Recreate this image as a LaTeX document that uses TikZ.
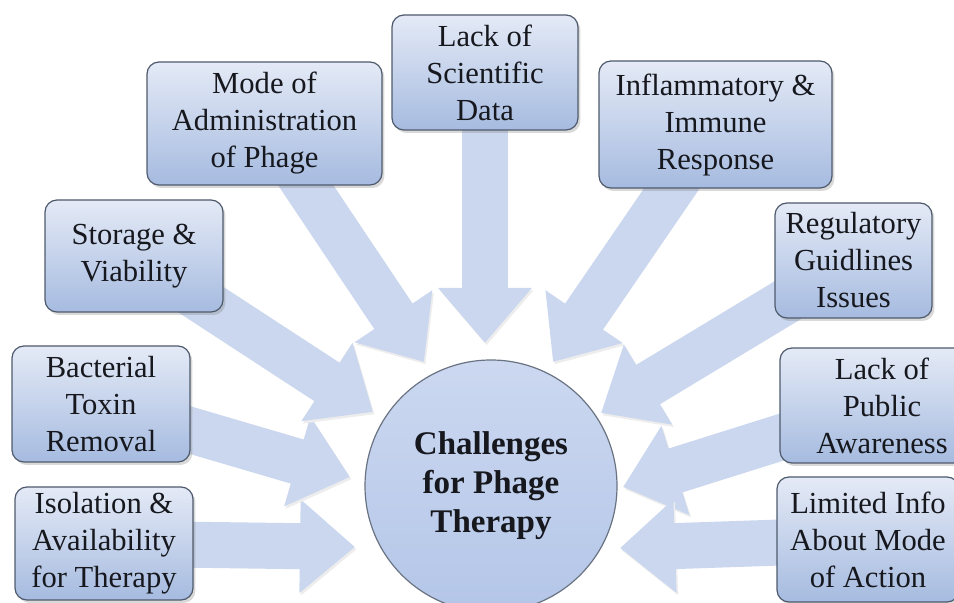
\documentclass[tikz,border=0pt]{standalone}
\usepackage{fontspec}
\setmainfont{Liberation Serif}
\usepackage{tikz}
\usetikzlibrary{arrows.meta,shadows,backgrounds}

\definecolor{boxtop}{RGB}{228,234,246}
\definecolor{boxbottom}{RGB}{166,187,224}
\definecolor{boxline}{RGB}{78,90,108}
\definecolor{hubtop}{RGB}{204,216,240}
\definecolor{hubbottom}{RGB}{180,198,232}
\definecolor{arrowfill}{RGB}{202,215,238}
\definecolor{inktext}{RGB}{22,24,30}

\tikzset{
    issue/.style={draw=boxline, line width=0.6pt, rounded corners=6pt,
        top color=boxtop, bottom color=boxbottom, text=inktext, align=center,
        inner sep=2pt, font=\fontsize{15.3}{18.5}\selectfont,
        drop shadow={shadow xshift=1.2pt, shadow yshift=-1.5pt, opacity=0.3}},
    hub/.style={circle, draw=boxline!85, line width=0.6pt, inner sep=0pt,
        top color=hubtop, bottom color=hubbottom, text=inktext, align=center,
        minimum size=126pt, font=\fontsize{16.5}{19.5}\selectfont\bfseries},
    push/.style={draw=arrowfill, line width=23pt, shorten <=-20pt,
        -{Triangle[length=27.5pt, width=45pt]},
        preaction={draw=black!7, transform canvas={shift={(0.8pt,-1.2pt)}}}}
}

\begin{document}
\begin{tikzpicture}[x=0.5pt, y=-0.5pt]
    \useasboundingbox (0,0) rectangle (954,603);

    % centre
    \node[hub] (hub) at (491,486) {Challenges\\for Phage\\Therapy};

    % the challenges, clockwise from the top left
    \node[issue, minimum width=117.5pt, minimum height=61.5pt] (mode) at (264.5,123.5) {Mode of\\Administration\\of Phage};
    \node[issue, minimum width=93pt, minimum height=57.5pt] (sci) at (485,72.5) {Lack of\\Scientific\\Data};
    \node[issue, minimum width=116.5pt, minimum height=63.5pt] (infl) at (715.5,124.5) {Inflammatory \&\\Immune\\Response};
    \node[issue, minimum width=78.5pt, minimum height=57.5pt] (reg) at (853.5,260.5) {Regulatory\\Guidlines\\Issues};
    \node[issue, minimum width=102pt, minimum height=57.5pt] (pub) at (882,405.5) {Lack of\\Public\\Awareness};
    \node[issue, minimum width=91pt, minimum height=62.5pt] (lim) at (868,539.5) {Limited Info\\About Mode\\of Action};
    \node[issue, minimum width=89pt, minimum height=56.5pt] (iso) at (104,543.5) {Isolation \&\\Availability\\for Therapy};
    \node[issue, minimum width=89pt, minimum height=58pt] (bact) at (101,404) {Bacterial\\Toxin\\Removal};
    \node[issue, minimum width=89pt, minimum height=56pt] (stor) at (134,256) {Storage \&\\Viability};

    % arrow heads stop short of the circle
    \coordinate (tmode) at (424,362);
    \coordinate (tsci) at (485,343);
    \coordinate (tinfl) at (553,362);
    \coordinate (treg) at (601,413);
    \coordinate (tpub) at (623,487);
    \coordinate (tlim) at (620,548);
    \coordinate (tiso) at (355,547);
    \coordinate (tbact) at (350,477);
    \coordinate (tstor) at (373,412);

    \begin{scope}[on background layer]
        \foreach \c in {mode,sci,infl,reg,pub,lim,iso,bact,stor}
            \draw[push] (\c) -- (t\c);
    \end{scope}
\end{tikzpicture}
\end{document}
